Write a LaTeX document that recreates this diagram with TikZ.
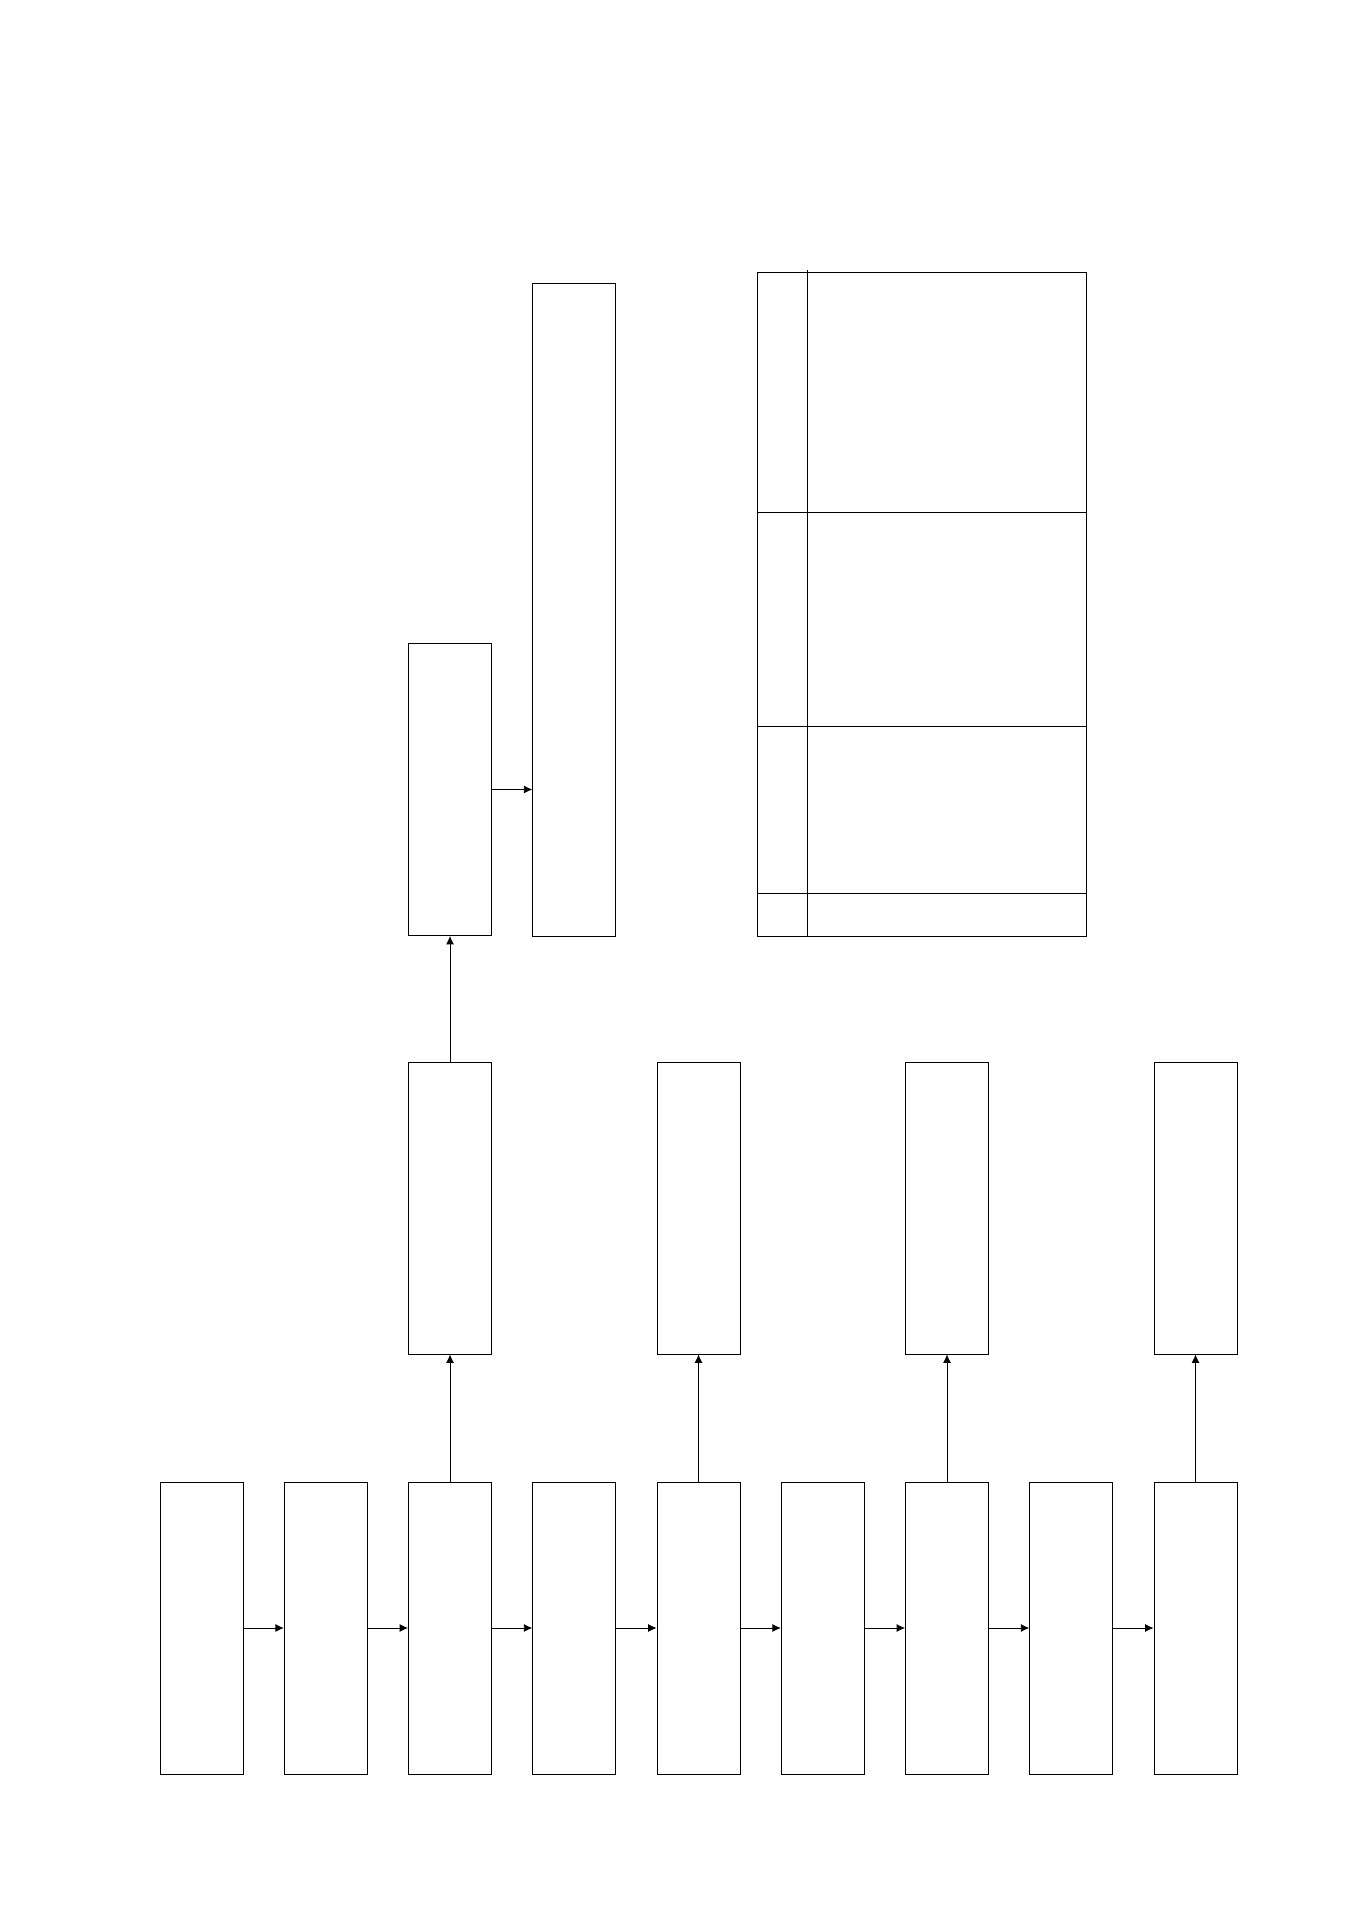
\documentclass[tikz,border=0pt]{standalone}
\usetikzlibrary{arrows.meta}

\tikzset{
    blk/.style={shape=rectangle,draw=black,line width=0.5pt,inner sep=0pt,minimum width=1.66cm,minimum height=5.84cm},
    tallblk/.style={blk,minimum height=13.06cm},
    conn/.style={-{Latex[length=1.7mm,width=1.6mm]},line width=0.5pt}
}

\begin{document}
\begin{tikzpicture}
    \useasboundingbox (0,0) rectangle (27.06,38.26);

    % bottom row
    \node[blk] (b-1) at (4.03,5.70) {};
    \node[blk] (b-2) at (6.515,5.70) {};
    \node[blk] (b-3) at (9.00,5.70) {};
    \node[blk] (b-4) at (11.485,5.70) {};
    \node[blk] (b-5) at (13.97,5.70) {};
    \node[blk] (b-6) at (16.455,5.70) {};
    \node[blk] (b-7) at (18.94,5.70) {};
    \node[blk] (b-8) at (21.425,5.70) {};
    \node[blk] (b-9) at (23.91,5.70) {};

    % middle row
    \node[blk] (m-3) at (9.00,14.10) {};
    \node[blk] (m-5) at (13.97,14.10) {};
    \node[blk] (m-7) at (18.94,14.10) {};
    \node[blk] (m-9) at (23.91,14.10) {};

    % top
    \node[blk] (u-3) at (9.00,22.47) {};
    \node[tallblk] (t-4) at (11.485,26.07) {};

    % table
    \node[shape=rectangle,draw=black,line width=0.5pt,inner sep=0pt,minimum width=6.58cm,minimum height=13.28cm] (tab) at (18.43,26.18) {};
    \draw[line width=0.5pt] (16.14,32.86) -- (16.14,19.54);
    \draw[line width=0.5pt] (15.14,28.02) -- (21.72,28.02);
    \draw[line width=0.5pt] (15.14,23.74) -- (21.72,23.74);
    \draw[line width=0.5pt] (15.14,20.40) -- (21.72,20.40);

    \path[conn]
    (b-1) edge (b-2)
    (b-2) edge (b-3)
    (b-3) edge (b-4)
    (b-4) edge (b-5)
    (b-5) edge (b-6)
    (b-6) edge (b-7)
    (b-7) edge (b-8)
    (b-8) edge (b-9)
    (b-3) edge (m-3)
    (b-5) edge (m-5)
    (b-7) edge (m-7)
    (b-9) edge (m-9)
    (m-3) edge (u-3)
    (u-3) edge (u-3 -| t-4.west)
    ;
\end{tikzpicture}
\end{document}
